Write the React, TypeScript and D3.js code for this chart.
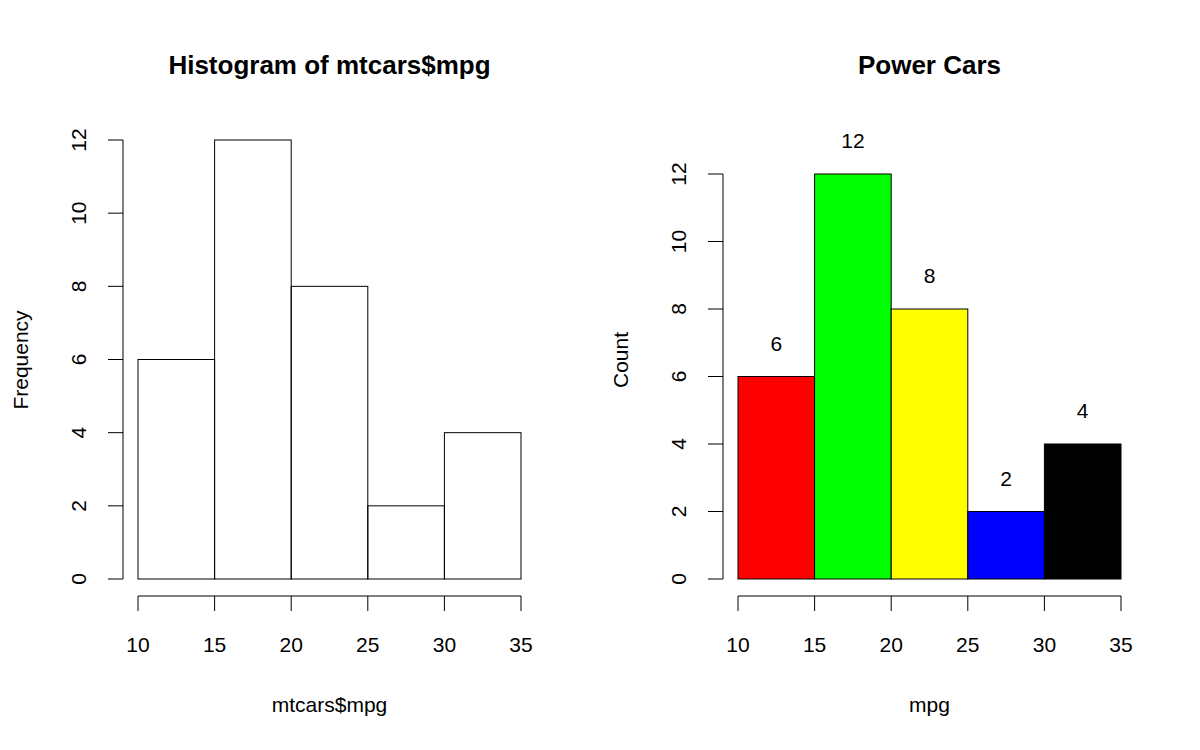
import React from "react";
import * as d3 from "d3";

const breaks = [10, 15, 20, 25, 30, 35];
const counts = [6, 12, 8, 2, 4];
const colors = ["#ff0000", "#00ff00", "#ffff00", "#0000ff", "#000000"];
const xTicks = [10, 15, 20, 25, 30, 35];
const yTicks = [0, 2, 4, 6, 8, 10, 12];

const font = "'Liberation Sans', Arial, sans-serif";

function Panel({ x0, x1, yTop, title, xLabel, yLabel, fills, labels, yAxisX, yLabelX, yTickX }: any) {
  const x = d3.scaleLinear().domain([10, 35]).range([x0, x1]);
  const y = d3.scaleLinear().domain([0, 12]).range([579, yTop]);
  const cx = (x0 + x1) / 2;
  return (
    <g fontFamily={font} fill="#000">
      <text x={cx} y={74} textAnchor="middle" fontSize={26} fontWeight="bold">{title}</text>
      {counts.map((c, i) => (
        <rect key={i} x={x(breaks[i])} y={y(c)} width={x(breaks[i + 1]) - x(breaks[i])} height={y(0) - y(c)}
          fill={fills ? fills[i] : "none"} stroke="#000" strokeWidth={1} />
      ))}
      {labels && counts.map((c, i) => (
        <text key={"l" + i} x={x((breaks[i] + breaks[i + 1]) / 2)} y={y(c) - 26} textAnchor="middle" fontSize={21}>{c}</text>
      ))}
      <line x1={x(10)} x2={x(35)} y1={596} y2={596} stroke="#000" />
      {xTicks.map(t => (
        <g key={t}>
          <line x1={x(t)} x2={x(t)} y1={596} y2={611} stroke="#000" />
          <text x={x(t)} y={652} textAnchor="middle" fontSize={21}>{t}</text>
        </g>
      ))}
      <line x1={yAxisX} x2={yAxisX} y1={y(0)} y2={y(12)} stroke="#000" />
      {yTicks.map(t => (
        <g key={t}>
          <line x1={yAxisX - 15} x2={yAxisX} y1={y(t)} y2={y(t)} stroke="#000" />
          <text transform={`translate(${yTickX},${y(t)}) rotate(-90)`} textAnchor="middle" fontSize={21}>{t}</text>
        </g>
      ))}
      <text x={cx} y={712} textAnchor="middle" fontSize={21}>{xLabel}</text>
      <text transform={`translate(${yLabelX},360) rotate(-90)`} textAnchor="middle" fontSize={21}>{yLabel}</text>
    </g>
  );
}

export default function App() {
  return (
    <svg width={1200} height={750} style={{ display: "block", position: "absolute", left: 0, top: 0, background: "#fff" }}>
      <rect width={1200} height={750} fill="#fff" />
      <Panel x0={138} x1={521} yTop={140} title="Histogram of mtcars$mpg" xLabel="mtcars$mpg" yLabel="Frequency"
        yAxisX={123} yLabelX={28} yTickX={86} />
      <Panel x0={738} x1={1121} yTop={174} title="Power Cars" xLabel="mpg" yLabel="Count"
        fills={colors} labels yAxisX={723} yLabelX={628} yTickX={686} />
    </svg>
  );
}
